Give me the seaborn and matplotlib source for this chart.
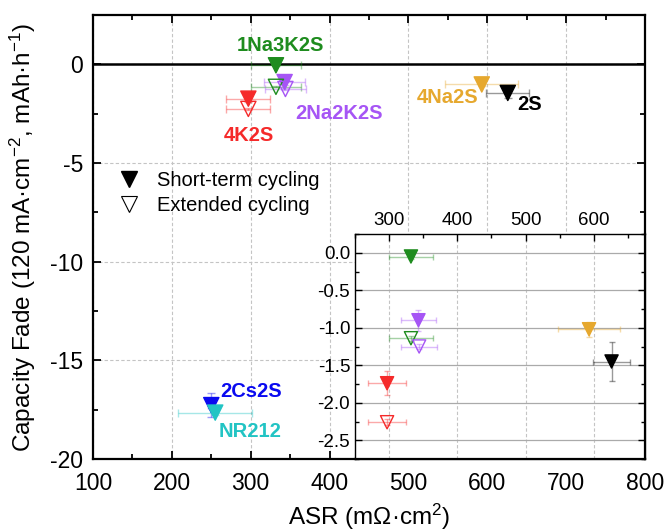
import matplotlib
matplotlib.use("Agg")
import numpy as np
import pandas as pd
import matplotlib.pyplot as plt
import seaborn as sns
from matplotlib.lines import Line2D
from matplotlib.ticker import MultipleLocator, FormatStrFormatter

# ---- data -------------------------------------------------------------
membranes = ["1Na3K2S", "2Na2K2S", "4K2S", "4Na2S", "2S", "2Cs2S", "NR212"]
colors = ["#1E8C1E", "#A655F5", "#F52A2A", "#E6A82E", "#000000", "#0A0AF0", "#22C4C4"]

# short-term cycling
asr_short = [332, 343, 297, 593, 626, 250, 255]
asr_short_err = [32, 26, 28, 46, 27, 4, 47]
fade_short = [-0.05, -0.90, -1.74, -1.02, -1.45, -17.27, -17.65]
fade_short_err = [0.03, 0.14, 0.16, 0.10, 0.26, 0.60, 0.10]

# extended cycling
ext_membranes = ["1Na3K2S", "2Na2K2S", "4K2S"]
asr_ext = [332, 344, 297]
asr_ext_err = [32, 26, 28]
fade_ext = [-1.14, -1.25, -2.26]
fade_ext_err = [0.03, 0.03, 0.04]

# membrane name annotations (data coordinates)
label_x = [338, 412, 298, 549, 654, 301, 299]
label_y = [0.95, -2.5, -3.6, -1.7, -2.05, -16.6, -18.6]

palette = dict(zip(membranes, colors))
short_df = pd.DataFrame({"membrane": membranes, "asr": asr_short, "asr_err": asr_short_err,
                         "fade": fade_short, "fade_err": fade_short_err})
ext_df = pd.DataFrame({"membrane": ext_membranes, "asr": asr_ext, "asr_err": asr_ext_err,
                       "fade": fade_ext, "fade_err": fade_ext_err})

# ---- style ------------------------------------------------------------
sns.set_theme(style="ticks")
plt.rcParams["font.family"] = ["Liberation Sans", "DejaVu Sans"]
plt.rcParams["mathtext.fontset"] = "custom"
plt.rcParams["mathtext.rm"] = "Liberation Sans"
plt.rcParams["mathtext.it"] = "Liberation Sans:italic"
plt.rcParams["mathtext.bf"] = "Liberation Sans:bold"
plt.rcParams["axes.unicode_minus"] = False
for key in ("text.color", "axes.labelcolor", "xtick.color", "ytick.color",
            "axes.edgecolor"):
    plt.rcParams[key] = "black"


def draw_points(ax, size, cap):
    for df, hollow in ((short_df, False), (ext_df, True)):
        for _, r in df.iterrows():
            ax.errorbar(r["asr"], r["fade"], xerr=r["asr_err"], yerr=r["fade_err"],
                        fmt="none", ecolor=palette[r["membrane"]], alpha=0.4,
                        elinewidth=1, capsize=cap, capthick=1, zorder=3)
        sns.scatterplot(data=df, x="asr", y="fade", hue="membrane", palette=palette,
                        marker="v", s=size, legend=False, ax=ax, zorder=4,
                        linewidth=1)
        coll = ax.collections[-1]
        if hollow:
            fc = coll.get_facecolors()
            coll.set_edgecolors(fc)
            coll.set_facecolors("none")
        else:
            coll.set_edgecolors(coll.get_facecolors())


fig = plt.figure(figsize=(6.66, 5.32), dpi=100)
ax = fig.add_axes([93 / 666, 1 - 459 / 532, 552 / 666, 444 / 532])

# ---- main axes --------------------------------------------------------
ax.set_xlim(100, 800)
ax.set_ylim(-20, 2.5)
ax.xaxis.set_major_locator(MultipleLocator(100))
ax.xaxis.set_minor_locator(MultipleLocator(50))
ax.yaxis.set_major_locator(MultipleLocator(5))
ax.yaxis.set_minor_locator(MultipleLocator(2.5))
ax.grid(True, which="major", color="#C4C4C4", linestyle=(0, (3, 2)), linewidth=0.8)
ax.set_axisbelow(True)
ax.axhline(0, color="black", linewidth=1.8, zorder=2)

draw_points(ax, 120, 3)

for name, x, y, c in zip(membranes, label_x, label_y, colors):
    ax.text(x, y, name, color=c, fontsize=14.5, fontweight="bold",
            ha="center", va="center", zorder=5)

ax.tick_params(which="both", direction="in", top=True, right=True, labelsize=16.5)
ax.tick_params(axis="x", which="major", pad=9)
ax.tick_params(axis="y", which="major", pad=7)
ax.tick_params(which="major", length=6, width=1.3)
ax.tick_params(which="minor", length=3.5, width=1.3)
for s in ax.spines.values():
    s.set_linewidth(1.6)
ax.set_xlabel("ASR (m\u03a9\u00b7cm$^{2}$)", fontsize=17.5, labelpad=5)
ax.set_ylabel("Capacity Fade (120 mA\u00b7cm$^{-2}$, mAh\u00b7h$^{-1}$)", fontsize=17.5, labelpad=9)

handles = [
    Line2D([], [], marker="v", color="black", linestyle="none", markersize=11),
    Line2D([], [], marker="v", color="black", markerfacecolor="none", linestyle="none",
           markersize=11, markeredgewidth=0.8),
]
ax.legend(handles, ["Short-term cycling", "Extended cycling"], loc="upper left",
          bbox_to_anchor=(-0.005, 0.69), frameon=False, fontsize=14.5,
          handletextpad=0.4, labelspacing=0.3)

# ---- inset ------------------------------------------------------------
ins = fig.add_axes([355 / 666, 1 - 459 / 532, 290 / 666, 225 / 532])
ins.set_facecolor("white")
ins.set_xlim(250, 675)
ins.set_ylim(-2.75, 0.25)
ins.xaxis.set_major_locator(MultipleLocator(100))
ins.xaxis.set_minor_locator(MultipleLocator(50))
ins.yaxis.set_major_locator(MultipleLocator(0.5))
ins.yaxis.set_minor_locator(MultipleLocator(0.25))
ins.yaxis.set_major_formatter(FormatStrFormatter("%.1f"))
ins.grid(True, axis="y", which="major", color="#AAAAAA", linestyle="-", linewidth=0.9)
ins.grid(True, axis="x", which="major", color="#C4C4C4", linestyle=(0, (3, 2)), linewidth=0.8)
ins.set_axisbelow(True)

draw_points(ins, 90, 2.5)

ins.set_xlabel("")
ins.set_ylabel("")
ins.xaxis.tick_top()
ins.tick_params(which="both", direction="in", top=True, right=True, bottom=False,
                labeltop=True, labelbottom=False, labelsize=13.5)
ins.tick_params(which="major", length=5, width=1)
ins.tick_params(which="minor", length=3, width=1)
for side, s in ins.spines.items():
    s.set_linewidth(1.0)
ins.spines["right"].set_linewidth(1.6)
ins.spines["bottom"].set_linewidth(1.6)

fig.savefig("out.png", dpi=100)
